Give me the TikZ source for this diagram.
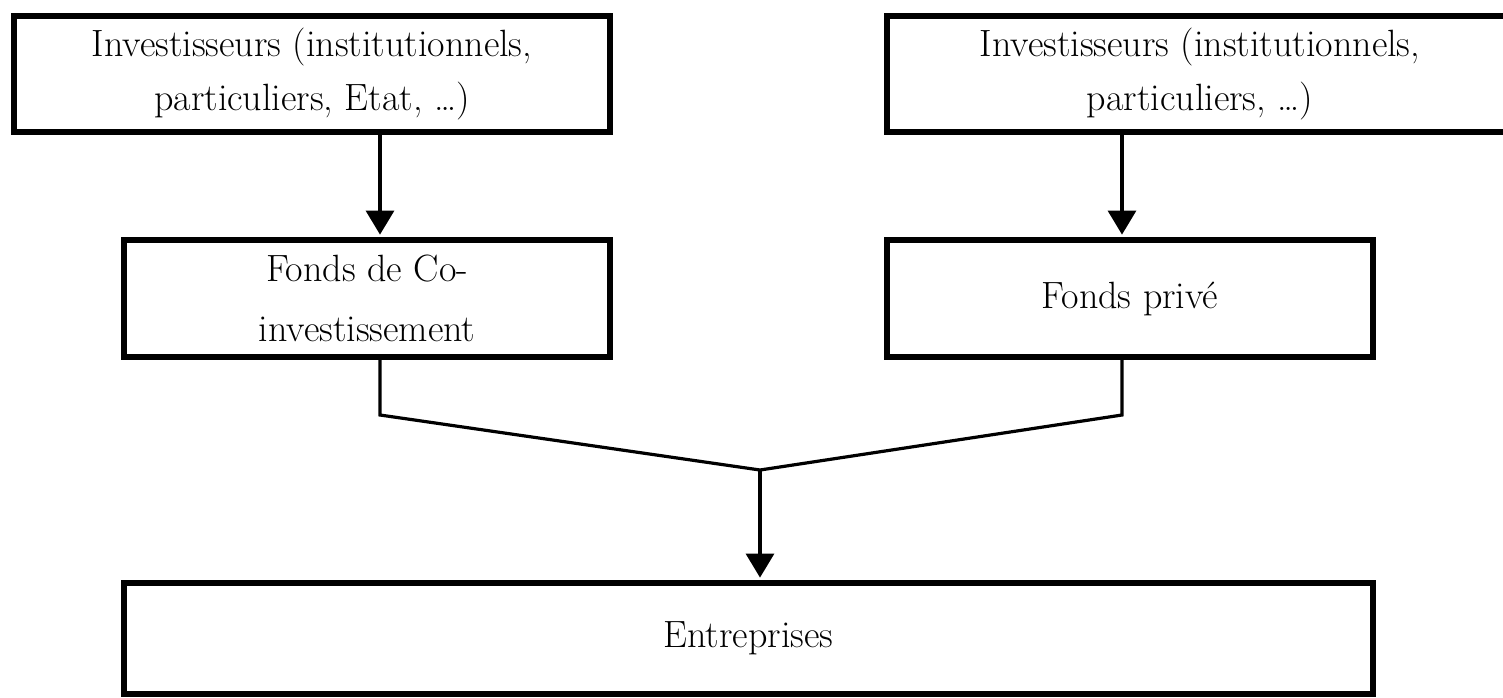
\documentclass[tikz,border=0pt]{standalone}
\usepackage{fontspec}
\usetikzlibrary{arrows.meta}
\begin{document}
\begin{tikzpicture}[x=0.5pt,y=-0.5pt,
  box/.style={draw,line width=2.8pt,inner sep=0pt,align=center,
    font=\fontsize{19}{27}\selectfont},
  conn/.style={line width=1.6pt},
  arr/.style={conn,-{Triangle[width=14pt,length=12pt]},shorten >=1.2pt}]
\useasboundingbox (0,0) rectangle (1503,697);
\clip (0,0) rectangle (1503,697);
\node[box,minimum width=298.2pt,minimum height=58.2pt] (b1) at (312,74)
  {Investisseurs (institutionnels,\\particuliers, Etat, \dots)};
\node[box,minimum width=313.2pt,minimum height=58.2pt] (b2) at (1200,74)
  {Investisseurs (institutionnels,\\particuliers, \dots)};
\node[box,minimum width=243.2pt,minimum height=58.7pt,
  font=\fontsize{19}{30}\selectfont] (b3) at (367,298.5)
  {Fonds de Co-\\investissement};
\node[box,minimum width=243.2pt,minimum height=58.7pt] (b4) at (1130,298.5)
  {Fonds privé};
\node[box,minimum width=624.7pt,minimum height=55.7pt] (b5) at (748.5,638.5)
  {Entreprises};
\coordinate (x1) at (380,0);
\coordinate (x2) at (1122,0);
\coordinate (k1) at (380,415);
\coordinate (k2) at (1122,415);
\coordinate (m) at (760,470);
\draw[arr] (b1.south -| x1) -- (b3.north -| x1);
\draw[arr] (b2.south -| x2) -- (b4.north -| x2);
\draw[conn,line join=miter] (b3.south -| x1) -- (k1) -- (m) -- (k2) -- (b4.south -| x2);
\draw[arr] (m) -- (b5.north -| m);
\end{tikzpicture}
\end{document}
